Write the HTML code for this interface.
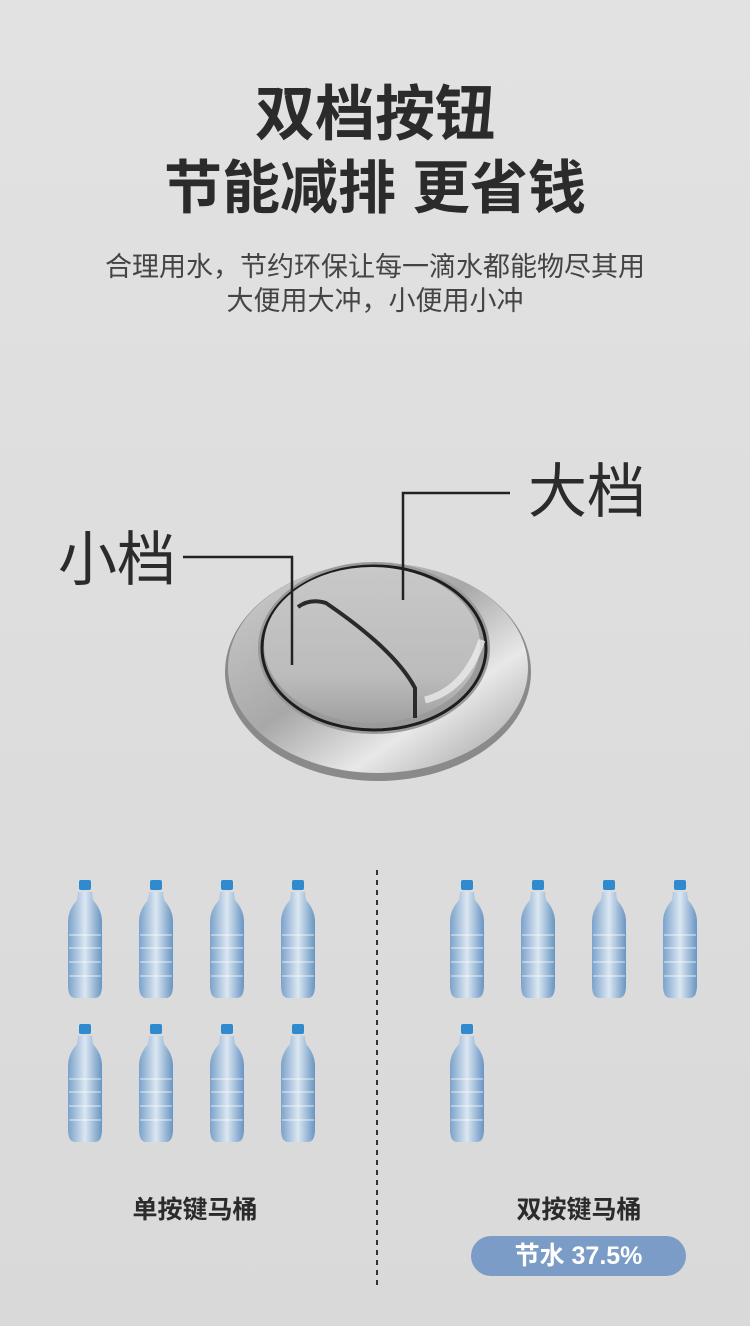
<!DOCTYPE html>
<html><head><meta charset="utf-8"><style>
body{margin:0;width:750px;height:1326px;overflow:hidden;background:linear-gradient(#e2e2e2,#dedede 40%,#d9d9d9);font-family:"Liberation Sans","Noto Sans CJK SC",sans-serif;position:relative}
.t{position:absolute;left:0;width:750px;text-align:center;color:#2b2b2b;font-weight:bold}
.a{position:absolute}
</style></head><body>
<div class="t" style="top:80px;font-size:60px;line-height:70px">双档按钮</div>
<div class="t" style="top:154px;font-size:58px;line-height:70px">节能减排 更省钱</div>
<div class="t" style="top:250px;font-size:27px;font-weight:normal;color:#444;line-height:34px">合理用水，节约环保让每一滴水都能物尽其用<br>大便用大冲，小便用小冲</div>
<svg class="a" style="left:0;top:0" width="750" height="1326">
<defs>
<linearGradient id="rg" x1="0" y1="0" x2="1" y2="1"><stop offset="0" stop-color="#cfcfcf"/><stop offset="0.45" stop-color="#a8a8a8"/><stop offset="0.7" stop-color="#e8e8e8"/><stop offset="1" stop-color="#9a9a9a"/></linearGradient>
<linearGradient id="fg" x1="0" y1="0" x2="0" y2="1"><stop offset="0" stop-color="#c8c8c8"/><stop offset="0.7" stop-color="#bcbcbc"/><stop offset="1" stop-color="#a0a0a0"/></linearGradient>
<linearGradient id="bg" x1="0" y1="0" x2="1" y2="0"><stop offset="0" stop-color="#6f9cc9"/><stop offset="0.5" stop-color="#dbe8f4"/><stop offset="1" stop-color="#5c8dc0"/></linearGradient>
<g id="b"><rect x="-6" y="0" width="12" height="10" rx="2" fill="#2f8ad0"/><path d="M-7 12 L7 12 L8 20 Q17 30 17 42 L17 105 Q17 118 10 118 L-10 118 Q-17 118 -17 105 L-17 42 Q-17 30 -8 20 Z" fill="url(#bg)" opacity="0.9"/><g stroke="#fff" stroke-width="1.2" opacity="0.6"><line x1="-16" y1="55" x2="16" y2="55"/><line x1="-16" y1="68" x2="16" y2="68"/><line x1="-16" y1="82" x2="16" y2="82"/><line x1="-16" y1="96" x2="16" y2="96"/></g></g>
</defs>
<ellipse cx="378" cy="672" rx="153" ry="109" fill="#8a8a8a"/>
<ellipse cx="378" cy="668" rx="150" ry="105" fill="url(#rg)"/>
<ellipse cx="374" cy="648" rx="116" ry="86" fill="#9a9a9a"/>
<ellipse cx="374" cy="648" rx="112" ry="82" fill="none" stroke="#1e1e1e" stroke-width="3"/>
<ellipse cx="372" cy="645" rx="108" ry="78" fill="url(#fg)"/>
<path d="M298 607 Q310 598 326 603 Q395 650 415 688 L415 718" fill="none" stroke="#2a2a2a" stroke-width="4"/>
<path d="M425 700 Q465 690 482 640" fill="none" stroke="#f2f2f2" stroke-width="7" opacity="0.7"/>
<g fill="none" stroke="#222" stroke-width="2.5"><path d="M183 557 H292 V665"/><path d="M510 493 H403 V600"/></g>
<line x1="377" y1="870" x2="377" y2="1290" stroke="#333" stroke-width="2" stroke-dasharray="5,5"/>
<use href="#b" x="85" y="880"/><use href="#b" x="156" y="880"/><use href="#b" x="227" y="880"/><use href="#b" x="298" y="880"/>
<use href="#b" x="85" y="1024"/><use href="#b" x="156" y="1024"/><use href="#b" x="227" y="1024"/><use href="#b" x="298" y="1024"/>
<use href="#b" x="467" y="880"/><use href="#b" x="538" y="880"/><use href="#b" x="609" y="880"/><use href="#b" x="680" y="880"/>
<use href="#b" x="467" y="1024"/>
<rect x="471" y="1236" width="215" height="40" rx="20" fill="#7b9cc6"/>
</svg>
<div class="a" style="left:58px;top:526px;font-size:59px;color:#2b2b2b;line-height:68px">小档</div>
<div class="a" style="left:528px;top:458px;font-size:59px;color:#2b2b2b;line-height:68px">大档</div>
<div class="a" style="left:90px;top:1190px;width:210px;text-align:center;font-size:25px;color:#2b2b2b;font-weight:bold">单按键马桶</div>
<div class="a" style="left:474px;top:1190px;width:210px;text-align:center;font-size:25px;color:#2b2b2b;font-weight:bold">双按键马桶</div>
<div class="a" style="left:471px;top:1240px;width:215px;text-align:center;font-size:25px;color:#fff;font-weight:bold;line-height:32px">节水 37.5%</div>
</body></html>
